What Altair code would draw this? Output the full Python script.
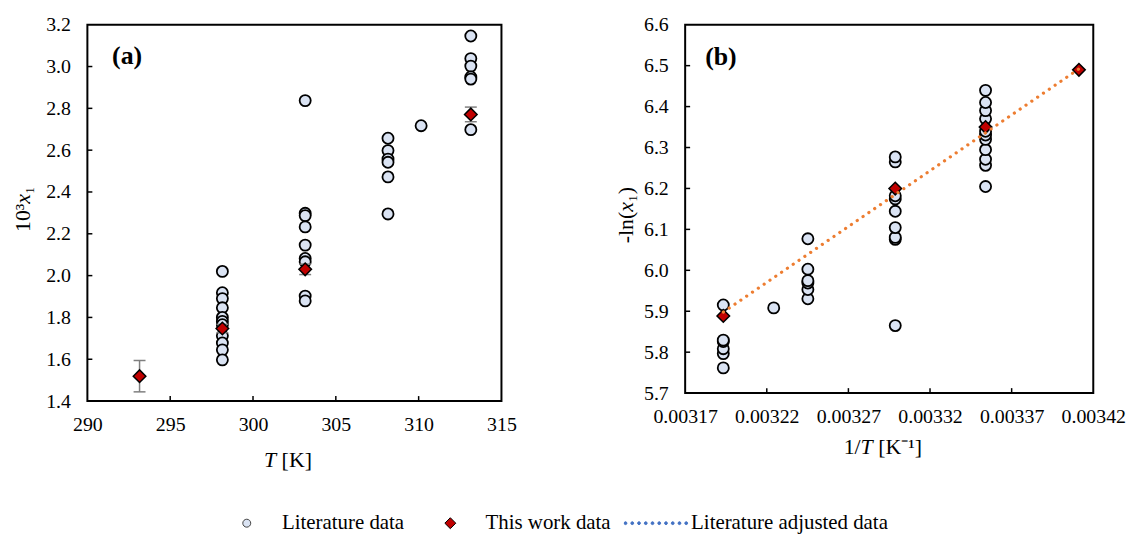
import altair as alt
import pandas as pd

FONT = "Liberation Serif"

# ---------------- data ----------------
lit_T = [298.15] * 11 + [303.15] * 9 + [308.15] * 6 + [310.15] + [313.15] * 6
lit_x = [2.020, 1.918, 1.890, 1.846, 1.800, 1.781, 1.765, 1.712, 1.678, 1.645, 1.597,
         2.837, 2.298, 2.287, 2.233, 2.146, 2.082, 2.066, 1.902, 1.879,
         2.657, 2.598, 2.557, 2.542, 2.472, 2.295,
         2.717,
         3.146, 3.038, 3.002, 2.950, 2.940, 2.698]

this_T = [293.15, 298.15, 303.15, 313.15]
this_x = [1.519, 1.747, 2.030, 2.771]
this_err = [0.075, 0.020, 0.025, 0.035]

fit_invT = [0.0031934, 0.0034112]
fit_nlx = [5.898, 6.492]

a_xticks = [290, 295, 300, 305, 310, 315]
a_yticks = [1.4, 1.6, 1.8, 2.0, 2.2, 2.4, 2.6, 2.8, 3.0, 3.2]
b_xticks = [0.00317, 0.00322, 0.00327, 0.00332, 0.00337, 0.00342]
b_yticks = [5.7, 5.8, 5.9, 6.0, 6.1, 6.2, 6.3, 6.4, 6.5, 6.6]

legend_items = ["Literature data", "This work data", "Literature adjusted data"]

lit_df = pd.DataFrame({"T": lit_T, "x": lit_x})
this_df = pd.DataFrame({"T": this_T, "x": this_x, "err": this_err})
fit_df = pd.DataFrame({"invT": fit_invT, "nlx": fit_nlx})

# ---------------- styles ----------------
C_FILL = "#DAE3F3"
D_FILL = "#C00000"
LINE_C = "#ED7D31"
ERR_C = "#7F7F7F"

W_A, H_A = 417, 379
W_B, H_B = 411, 371
TICK = 5
TFS = 22  # axis title font size


def txt(s, x, y, align="center", italic=False, angle=0, size=TFS, bold=False):
    kw = dict(font=FONT, fontSize=size, align=align, baseline="alphabetic", color="black",
              fontStyle="italic" if italic else "normal",
              fontWeight="bold" if bold else "normal")
    if angle:
        kw["angle"] = angle
    return alt.Chart(pd.DataFrame({"t": [s]})).mark_text(**kw).encode(
        x=alt.value(x), y=alt.value(y), text="t:N")


# ---------------- panel (a) ----------------
xa = alt.X("T:Q", scale=alt.Scale(domain=[290, 315], nice=False, zero=False),
           axis=alt.Axis(values=a_xticks, format="d", title=None))
ya = alt.Y("x:Q", scale=alt.Scale(domain=[1.4, 3.2], nice=False, zero=False),
           axis=alt.Axis(values=a_yticks, format=".1f", title=None))

a_circ = alt.Chart(lit_df).mark_point(
    shape="circle", filled=True, fill=C_FILL, stroke="black", strokeWidth=1.8,
    size=125, opacity=1, fillOpacity=1
).encode(x=xa, y=ya)

a_err = alt.Chart(this_df).transform_calculate(
    lo="datum.x - datum.err", hi="datum.x + datum.err"
).mark_rule(color=ERR_C, strokeWidth=1.5).encode(x=xa, y=alt.Y("lo:Q"), y2="hi:Q")

a_cap_lo = alt.Chart(this_df).transform_calculate(
    lo="datum.x - datum.err"
).mark_tick(orient="horizontal", color=ERR_C, size=12, thickness=1.5, opacity=1).encode(x=xa, y=alt.Y("lo:Q"))
a_cap_hi = alt.Chart(this_df).transform_calculate(
    hi="datum.x + datum.err"
).mark_tick(orient="horizontal", color=ERR_C, size=12, thickness=1.5, opacity=1).encode(x=xa, y=alt.Y("hi:Q"))

a_dia = alt.Chart(this_df).mark_point(
    shape="diamond", filled=True, fill=D_FILL, stroke="black", strokeWidth=1.5,
    size=160, opacity=1, fillOpacity=1
).encode(x=xa, y=ya)

a_xt = alt.Chart(pd.DataFrame({"T": a_xticks[1:-1]})).mark_rule(color="black", strokeWidth=1.5).encode(
    x=xa, y=alt.value(H_A), y2=alt.value(H_A - TICK))
a_yt = alt.Chart(pd.DataFrame({"x": a_yticks[1:-1]})).mark_rule(color="black", strokeWidth=1.5).encode(
    y=ya, x=alt.value(0), x2=alt.value(TICK))

a_texts = [
    txt("(a)", 40, 40, size=26, bold=True),
    # x title: T [K]
    txt("T", 184, 445.5, italic=True),
    txt("[K]", 195.6, 445.5, align="left"),
    # y title: 10³x₁ (rotated)
    txt("10³", -57.5, 180.2, align="right", angle=270),
    txt("x", -57.5, 175.3, italic=True, angle=270),
    txt("₁", -57.5, 170.4, align="left", angle=270),
]

panel_a = alt.layer(a_circ, a_err, a_cap_lo, a_cap_hi, a_dia, a_xt, a_yt, *a_texts).properties(
    width=W_A, height=H_A)

# ---------------- panel (b) ----------------
xb = alt.X("invT:Q", scale=alt.Scale(domain=[0.00317, 0.00342], nice=False, zero=False),
           axis=alt.Axis(values=b_xticks, format=".5f", title=None))
yb = alt.Y("nlx:Q", scale=alt.Scale(domain=[5.7, 6.6], nice=False, zero=False),
           axis=alt.Axis(values=b_yticks, format=".1f", title=None))

calc = dict(invT="1 / datum.T", nlx="-log(datum.x / 1000)")

b_circ = alt.Chart(lit_df).transform_calculate(**calc).mark_point(
    shape="circle", filled=True, fill=C_FILL, stroke="black", strokeWidth=1.8,
    size=125, opacity=1, fillOpacity=1
).encode(x=xb, y=yb)

b_dia = alt.Chart(this_df).transform_calculate(**calc).mark_point(
    shape="diamond", filled=True, fill=D_FILL, stroke="black", strokeWidth=1.5,
    size=160, opacity=1, fillOpacity=1
).encode(x=xb, y=yb)

b_line = alt.Chart(fit_df).mark_line(
    color=LINE_C, strokeWidth=3.2, strokeDash=[0.1, 7], strokeCap="round"
).encode(x=xb, y=yb)

b_xt = alt.Chart(pd.DataFrame({"invT": b_xticks[1:-1]})).mark_rule(color="black", strokeWidth=1.5).encode(
    x=xb, y=alt.value(H_B), y2=alt.value(H_B - TICK))
b_yt = alt.Chart(pd.DataFrame({"nlx": b_yticks[1:-1]})).mark_rule(color="black", strokeWidth=1.5).encode(
    y=yb, x=alt.value(0), x2=alt.value(TICK))

b_texts = [
    txt("(b)", 36, 41, size=26, bold=True),
    # x title: 1/T [K⁻¹]
    txt("1/", 176.7, 432.5, align="right"),
    txt("T", 182.8, 432.5, italic=True),
    txt("[K⁻¹]", 194.4, 432.5, align="left"),
    # y title: -ln(x₁) (rotated)
    txt("-ln(", -53, 188.3, align="right", angle=270),
    txt("x", -53, 183.4, italic=True, angle=270),
    txt("₁)", -53, 178.5, align="left", angle=270),
]

# legend symbols (unit-square paths, scaled by the legend symbol size)
def circle_path(r):
    return f"M{-r},0a{r},{r} 0 1,0 {2*r},0a{r},{r} 0 1,0 {-2*r},0Z"


def dots_path(n, r):
    parts = []
    for i in range(n):
        cx = -1 + r + i * (2 - 2 * r) / (n - 1)
        parts.append(f"M{cx - r:.4f},0a{r},{r} 0 1,0 {2*r},0a{r},{r} 0 1,0 {-2*r},0Z")
    return "".join(parts)


SYM = 64
circ_sym = circle_path(4.0 / (SYM / 2))
d = 5.5 / (SYM / 2)
dia_sym = f"M0,{-d}L{d},0L0,{d}L{-d},0Z"
dot_sym = dots_path(10, 0.045)

leg = alt.Legend(orient="none", legendX=128, legendY=492, direction="horizontal", title=None,
                 labelFont=FONT, labelFontSize=21, labelColor="black", labelOffset=3,
                 columnPadding=13, clipHeight=20, symbolSize=SYM * SYM, symbolStrokeWidth=1,
                 padding=0, labelLimit=400)

dummy = alt.Chart(pd.DataFrame({"item": legend_items})).transform_filter("false").mark_point(
    filled=True, opacity=1
).encode(
    fill=alt.Fill("item:N", scale=alt.Scale(domain=legend_items, range=[C_FILL, D_FILL, "#4472C4"]), legend=leg),
    stroke=alt.Stroke("item:N", scale=alt.Scale(domain=legend_items, range=["#404040", "black", "#4472C4"]), legend=leg),
    shape=alt.Shape("item:N", scale=alt.Scale(domain=legend_items, range=[circ_sym, dia_sym, dot_sym]), legend=leg),
)

panel_b = alt.layer(b_circ, b_dia, b_line, b_xt, b_yt, *b_texts, dummy).properties(width=W_B, height=H_B)

chart = alt.hconcat(panel_a, panel_b, spacing=97).properties(
    padding={"left": 11, "top": 12, "right": 5, "bottom": 0},
    background="white",
).configure_view(
    stroke="black", strokeWidth=2
).configure_axis(
    labelFont=FONT, labelFontSize=20, labelColor="black",
    ticks=False, domain=False, grid=False, labelFlush=False, labelOverlap=False, labelBound=False,
).configure_axisX(
    labelPadding=14
).configure_axisY(
    labelPadding=17
)

chart.save("out.html", embed_options={"renderer": "svg", "actions": False})
